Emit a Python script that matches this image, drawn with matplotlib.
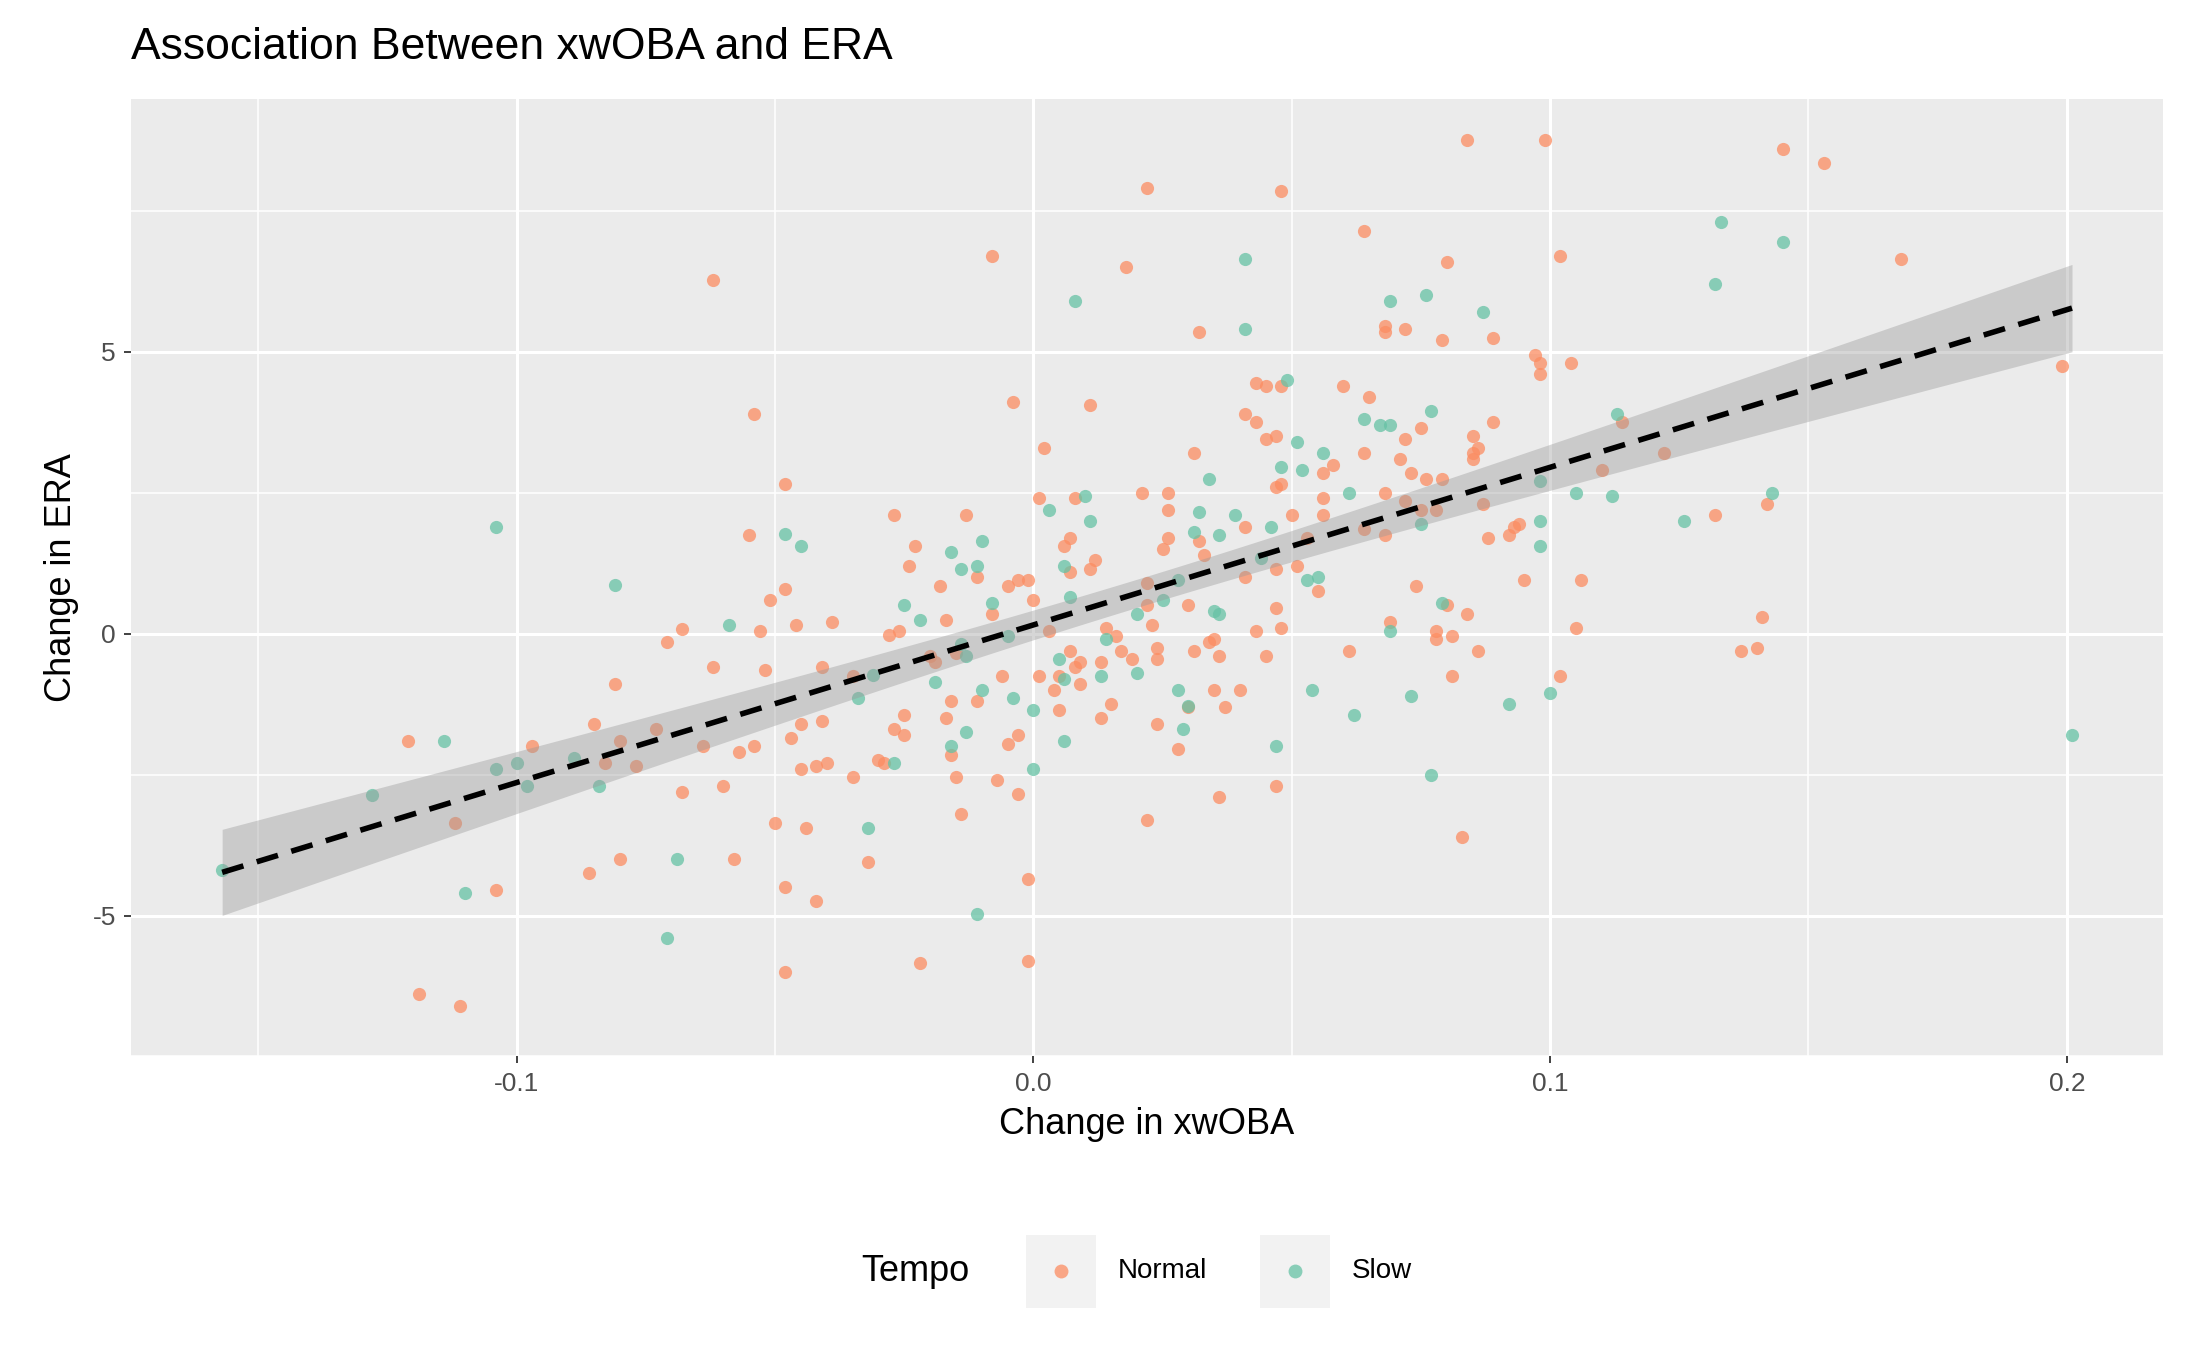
import numpy as np
import matplotlib
matplotlib.use("Agg")
import matplotlib.pyplot as plt
from matplotlib.lines import Line2D
from matplotlib.patches import Rectangle

slow_x = [-0.157,-0.128,-0.114,-0.110,-0.104,-0.104,-0.100,-0.098,-0.089,-0.084,-0.081,-0.071,-0.069,-0.059,-0.048,-0.045,
 -0.034,-0.032,-0.031,-0.027,-0.025,-0.022,-0.019,-0.016,-0.016,-0.014,-0.014,-0.013,-0.013,-0.011,-0.011,-0.010,-0.010,
 -0.008,-0.005,-0.004,0.0,0.0,0.003,0.005,0.006,0.006,0.006,0.007,0.008,0.010,0.011,0.013,0.014,0.020,0.020,0.025,0.028,
 0.028,0.029,0.030,0.031,0.032,0.034,0.035,0.036,0.036,0.039,0.041,0.041,0.044,0.046,0.047,0.048,0.049,0.051,0.052,0.053,
 0.054,0.055,0.056,0.061,0.062,0.064,0.067,0.069,0.069,0.069,0.073,0.075,0.076,0.077,0.077,0.079,0.087,0.092,0.098,0.098,
 0.098,0.100,0.105,0.112,0.113,0.126,0.132,0.133,0.143,0.145,0.201]
slow_y = [-4.2,-2.87,-1.9,-4.6,1.9,-2.4,-2.3,-2.7,-2.2,-2.7,0.86,-5.4,-4.0,0.15,1.76,1.55,
 -1.15,-3.45,-0.74,-2.3,0.5,0.25,-0.85,-2.0,1.45,1.15,-0.18,-0.4,-1.75,1.2,-4.98,-1.0,1.65,
 0.55,-0.05,-1.15,-1.35,-2.4,2.2,-0.45,1.2,-0.8,-1.9,0.65,5.9,2.45,2.0,-0.75,-0.1,0.35,-0.7,0.6,0.95,
 -1.0,-1.7,-1.28,1.8,2.15,2.75,0.4,0.35,1.75,2.1,6.65,5.4,1.35,1.9,-2.0,2.95,4.5,3.4,2.9,0.95,
 -1.0,1.0,3.2,2.5,-1.45,3.8,3.7,3.7,5.9,0.05,-1.1,1.95,6.0,3.95,-2.5,0.55,5.7,-1.25,2.7,2.0,
 1.55,-1.05,2.5,2.45,3.9,2.0,6.2,7.3,2.5,6.95,-1.8]

normal_x = [-0.121,-0.119,-0.112,-0.111,-0.104,-0.097,-0.086,-0.085,-0.083,-0.081,-0.080,-0.080,-0.077,-0.073,-0.071,-0.068,
 -0.068,-0.064,-0.062,-0.062,-0.060,-0.058,-0.057,-0.055,-0.054,-0.054,-0.053,-0.052,-0.051,-0.050,-0.048,-0.048,-0.048,
 -0.048,-0.047,-0.046,-0.045,-0.045,-0.044,-0.042,-0.042,-0.041,-0.041,-0.040,-0.039,-0.035,-0.035,-0.032,-0.030,-0.029,
 -0.028,-0.027,-0.027,-0.026,-0.025,-0.025,-0.024,-0.023,-0.022,-0.020,-0.019,-0.018,-0.017,-0.017,-0.016,-0.016,-0.015,
 -0.015,-0.014,-0.013,-0.011,-0.011,-0.008,-0.008,-0.007,-0.006,-0.005,-0.005,-0.004,-0.003,-0.003,-0.003,-0.001,-0.001,
 -0.001,0.0,0.001,0.001,0.002,0.003,0.004,0.005,0.005,0.006,0.007,0.007,0.007,0.008,0.008,0.009,0.009,0.011,0.011,0.012,
 0.013,0.013,0.014,0.015,0.016,0.017,0.018,0.019,0.021,0.022,0.022,0.022,0.022,0.023,0.024,0.024,0.024,0.025,0.026,0.026,
 0.026,0.028,0.030,0.030,0.031,0.031,0.032,0.032,0.033,0.034,0.035,0.035,0.036,0.036,0.037,0.040,0.041,0.041,0.041,0.043,
 0.043,0.043,0.045,0.045,0.045,0.047,0.047,0.047,0.047,0.047,0.048,0.048,0.048,0.048,0.050,0.051,0.053,0.055,0.056,0.056,
 0.056,0.058,0.060,0.061,0.064,0.064,0.064,0.065,0.068,0.068,0.068,0.068,0.069,0.071,0.072,0.072,0.072,0.073,0.074,0.075,
 0.075,0.076,0.078,0.078,0.078,0.079,0.079,0.080,0.080,0.081,0.081,0.083,0.084,0.084,0.085,0.085,0.085,0.086,0.086,0.087,
 0.088,0.089,0.089,0.092,0.093,0.094,0.095,0.097,0.098,0.098,0.099,0.102,0.102,0.104,0.105,0.106,0.110,0.114,0.122,0.132,
 0.137,0.140,0.141,0.142,0.145,0.153,0.168,0.199]
normal_y = [-1.9,-6.4,-3.35,-6.6,-4.55,-2.0,-4.25,-1.6,-2.3,-0.9,-1.9,-4.0,-2.35,-1.7,-0.15,0.08,
 -2.8,-2.0,-0.6,6.27,-2.7,-4.0,-2.1,1.75,3.9,-2.0,0.05,-0.65,0.6,-3.35,2.65,-4.5,-6.0,
 0.8,-1.85,0.15,-1.6,-2.4,-3.45,-2.35,-4.75,-0.6,-1.55,-2.3,0.2,-0.75,-2.55,-4.05,-2.25,-2.3,
 -0.03,-1.7,2.1,0.05,-1.8,-1.45,1.2,1.55,-5.85,-0.4,-0.5,0.85,-1.5,0.25,-1.2,-2.15,-2.55,
 -0.35,-3.2,2.1,1.0,-1.2,6.7,0.35,-2.6,-0.75,0.85,-1.95,4.1,-1.8,-2.85,0.95,0.95,-4.35,
 -5.8,0.6,2.4,-0.75,3.3,0.05,-1.0,-1.35,-0.75,1.55,1.7,-0.3,1.1,2.4,-0.6,-0.9,-0.5,4.05,1.15,1.3,
 -0.5,-1.5,0.1,-1.25,-0.05,-0.3,6.5,-0.45,2.5,0.9,7.9,-3.3,0.5,0.15,-0.25,-0.45,-1.6,1.5,2.2,1.7,
 2.5,-2.05,-1.3,0.5,3.2,-0.3,1.65,5.35,1.4,-0.15,-0.1,-1.0,-0.4,-2.9,-1.3,-1.0,1.9,1.0,3.9,4.45,
 3.75,0.05,4.4,3.45,-0.4,3.5,0.45,2.6,-2.7,1.15,0.1,7.85,2.65,4.4,2.1,1.2,1.7,0.75,2.1,2.85,
 2.4,3.0,4.4,-0.3,7.15,1.85,3.2,4.2,5.45,5.35,2.5,1.75,0.2,3.1,3.45,5.4,2.35,2.85,0.85,2.2,
 3.65,2.75,2.2,0.05,-0.1,2.75,5.2,6.6,0.5,-0.05,-0.75,-3.6,8.75,0.35,3.5,3.1,3.2,3.3,-0.3,2.3,
 1.7,3.75,5.25,1.75,1.9,1.95,0.95,4.95,4.6,4.8,8.75,-0.75,6.7,4.8,0.1,0.95,2.9,3.75,3.2,2.1,
 -0.3,-0.25,0.3,2.3,8.6,8.35,6.65,4.75]

x_ticks = [-0.1, 0.0, 0.1, 0.2]
x_labels = ["-0.1", "0.0", "0.1", "0.2"]
y_ticks = [-5, 0, 5]
y_labels = ["-5", "0", "5"]

plt.rcParams['font.family'] = ['Liberation Sans', 'DejaVu Sans']
fig = plt.figure(figsize=(21.87, 13.51), dpi=100)
ax = fig.add_axes([0.060, 0.218, 0.929, 0.709])
ax.set_facecolor('#EBEBEB')
for s in ax.spines.values():
    s.set_visible(False)

ax.set_xlim(-0.1746, 0.2186)
ax.set_ylim(-7.35, 9.49)
ax.set_xticks(x_ticks)
ax.set_xticklabels(x_labels)
ax.set_yticks(y_ticks)
ax.set_yticklabels(y_labels)
ax.set_xticks([-0.15, -0.05, 0.05, 0.15], minor=True)
ax.set_yticks([-7.5, -2.5, 2.5, 7.5], minor=True)
ax.grid(which='major', color='white', linewidth=2.2)
ax.grid(which='minor', color='white', linewidth=1.1)
ax.set_axisbelow(True)
ax.tick_params(which='major', length=5, width=1.3, color='#333333', labelsize=19, labelcolor='#4D4D4D', pad=6)
ax.tick_params(which='minor', length=0)

c_norm = '#FC8D62'
c_slow = '#66C2A5'
ax.scatter(normal_x, normal_y, s=90, color=c_norm, alpha=0.75, linewidths=0, zorder=2)
ax.scatter(slow_x, slow_y, s=90, color=c_slow, alpha=0.75, linewidths=0, zorder=2)

# OLS fit with 95% CI
X = np.array(normal_x + slow_x)
Y = np.array(normal_y + slow_y)
n = len(X)
b, a = np.polyfit(X, Y, 1)
resid = Y - (a + b * X)
s2 = np.sum(resid**2) / (n - 2)
xm = X.mean(); sxx = np.sum((X - xm)**2)
xs = np.linspace(X.min(), X.max(), 200)
ys = a + b * xs
se = np.sqrt(s2 * (1/n + (xs - xm)**2 / sxx))
t = 1.966
ax.fill_between(xs, ys - t*se, ys + t*se, color='#999999', alpha=0.4, linewidth=0, zorder=3)
ax.plot(xs, ys, color='black', linestyle=(0, (4, 2.5)), linewidth=4, zorder=4)

ax.set_xlabel("Change in xwOBA", fontsize=26, labelpad=8)
ax.set_ylabel("Change in ERA", fontsize=26, labelpad=10)
fig.text(0.060, 0.965, "Association Between xwOBA and ERA", fontsize=32, ha='left', va='center')

# legend
ly = 0.059
fig.text(0.394, ly, "Tempo", fontsize=26, ha='left', va='center')
for (x0, col, lab) in [(0.469, c_norm, "Normal"), (0.576, c_slow, "Slow")]:
    fig.add_artist(Rectangle((x0, 0.032), 0.032, 0.054, transform=fig.transFigure,
                             facecolor='#F2F2F2', edgecolor='none'))
    fig.add_artist(Line2D([x0 + 0.016], [ly], transform=fig.transFigure, marker='o', linestyle='',
                          color=col, alpha=0.75, markersize=10, markeredgewidth=0))
    fig.text(x0 + 0.042, ly, lab, fontsize=20, ha='left', va='center')

fig.savefig("out.png", dpi=100)
